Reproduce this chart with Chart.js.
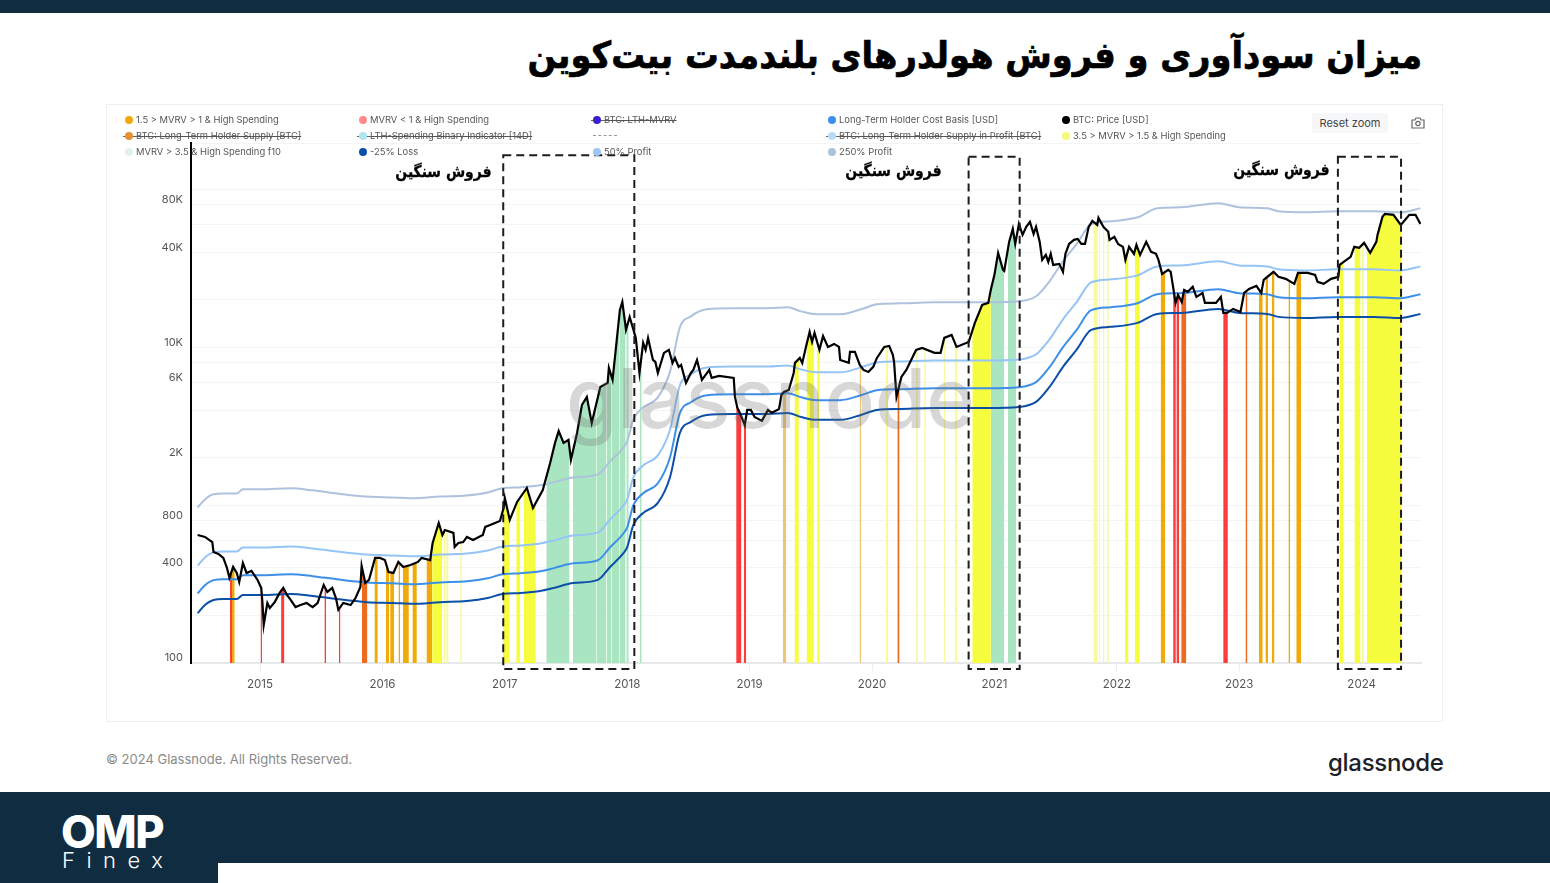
<!DOCTYPE html>
<html lang="fa">
<head>
<meta charset="utf-8">
<title>LTH profitability and spending</title>
<script src="https://cdn.jsdelivr.net/npm/chart.js@4"></script>
<style>
  html, body { margin: 0; padding: 0; background: #fff; }
  #page { position: relative; width: 1550px; height: 883px; overflow: hidden; background: #fff; font-family: Inter, sans-serif; }
  #page > * { position: absolute; }
  .navy { background: #0f2c40; }
  #title { right: 128px; top: 34px; font: bold 37px "DejaVu Sans", sans-serif; color: #000; direction: rtl; white-space: nowrap; transform: scaleX(0.911); transform-origin: right center; -webkit-text-stroke: 0.7px #000; }
  #card { left: 106px; top: 104px; width: 1335px; height: 616px; border: 1px solid #eceef0; }
  #chart { left: 107px; top: 105px; }
  .note { font: bold 16px "DejaVu Sans", sans-serif; color: #000; direction: rtl; white-space: nowrap; transform: scaleX(0.87); transform-origin: right center; -webkit-text-stroke: 0.3px #000; }
  .leg { font-size: 9.4px; line-height: 12px; color: #555; white-space: nowrap; }
  .leg i { position: absolute; left: -11px; top: 2px; width: 8px; height: 8px; border-radius: 50%; }
  .leg.off { text-decoration: line-through; }
  .leg.off::before { content: ""; position: absolute; left: -13px; width: 14px; top: 6px; height: 1px; background: #666; }
  #reset { left: 1312px; top: 113px; width: 76px; height: 20px; background: #f6f7f9; border-radius: 3px; font-size: 11px; line-height: 20px; text-align: center; color: #444; }
  #copy { left: 106px; top: 751px; font-size: 13px; color: #8a8a8a; white-space: nowrap; }
  #brand { left: 1328px; top: 748px; font-size: 24px; font-weight: 500; letter-spacing: -0.3px; color: #1c2229; white-space: nowrap; }
  #omp { left: 61px; top: 805px; font-size: 45px; font-weight: 800; letter-spacing: -1.5px; color: #fff; line-height: 54px; }
  #finex { left: 62px; top: 848px; font-size: 22px; font-weight: 300; letter-spacing: 11.5px; color: #fff; line-height: 24px; }
</style>
</head>
<body>
<div id="page">
  <div class="navy" style="left:0;top:0;width:1550px;height:13px"></div>
  <div id="title">میزان سودآوری و فروش هولدرهای بلندمدت بیت‌کوین</div>
  <div id="card"></div>
  <canvas id="chart" width="1336" height="616"></canvas>
  <div id="legend" style="left:0;top:0"></div>
  <div class="note" style="right:1058px;top:162px">فروش سنگین</div>
  <div class="note" style="right:608px;top:161px">فروش سنگین</div>
  <div class="note" style="right:220px;top:160px">فروش سنگین</div>
  <div id="reset">Reset zoom</div>
  <svg style="left:1411px;top:117px" width="14" height="12" viewBox="0 0 14 12" fill="none" stroke="#666" stroke-width="1.2">
    <path d="M1 3h3l1-2h4l1 2h3v8H1z"/><circle cx="7" cy="6.5" r="2.2"/>
  </svg>
  <div id="copy">© 2024 Glassnode. All Rights Reserved.</div>
  <div id="brand">glassnode</div>
  <div class="navy" style="left:0;top:792px;width:1550px;height:91px"></div>
  <div style="left:218px;top:863px;width:1332px;height:20px;background:#fff"></div>
  <div id="omp">OMP</div>
  <div id="finex">Finex</div>
</div>

<script>
// values, x is decimal year
const priceYears = [
  2014.49, 2014.55, 2014.61, 2014.62, 2014.66, 2014.70, 2014.73, 2014.75, 2014.78, 2014.81, 2014.83, 2014.86, 2014.89, 2014.93, 2014.98,
  2015.01, 2015.02, 2015.03, 2015.06, 2015.08, 2015.12, 2015.16, 2015.19, 2015.22, 2015.25, 2015.29, 2015.33, 2015.38, 2015.43, 2015.47,
  2015.52, 2015.55, 2015.59, 2015.62, 2015.64, 2015.68, 2015.74, 2015.78, 2015.82, 2015.83, 2015.86, 2015.89, 2015.94, 2015.98,
  2016.02, 2016.05, 2016.09, 2016.13, 2016.17, 2016.23, 2016.29, 2016.32, 2016.39, 2016.41, 2016.46, 2016.49, 2016.51, 2016.58, 2016.59,
  2016.62, 2016.66, 2016.69, 2016.74, 2016.82, 2016.84, 2016.88, 2016.96, 2016.99,
  2017.00, 2017.04, 2017.10, 2017.18, 2017.23, 2017.31, 2017.37, 2017.41, 2017.44, 2017.48, 2017.52, 2017.54, 2017.59, 2017.63, 2017.67,
  2017.71, 2017.78, 2017.84, 2017.85, 2017.88, 2017.90, 2017.94, 2017.96, 2017.99,
  2018.02, 2018.07, 2018.10, 2018.13, 2018.15, 2018.17, 2018.21, 2018.23, 2018.25, 2018.30, 2018.34, 2018.37, 2018.39, 2018.42, 2018.44,
  2018.48, 2018.52, 2018.54, 2018.57, 2018.59, 2018.61, 2018.67, 2018.69, 2018.75, 2018.87, 2018.88, 2018.90, 2018.92, 2018.96, 2018.98,
  2019.01, 2019.04, 2019.10, 2019.15, 2019.18, 2019.24, 2019.26, 2019.28, 2019.32, 2019.36, 2019.37, 2019.41, 2019.43, 2019.46, 2019.49,
  2019.51, 2019.53, 2019.57, 2019.60, 2019.64, 2019.69, 2019.73, 2019.74, 2019.81, 2019.82, 2019.86, 2019.90, 2019.93, 2019.97,
  2020.01, 2020.04, 2020.10, 2020.14, 2020.17, 2020.18, 2020.20, 2020.24, 2020.28, 2020.36, 2020.41, 2020.51, 2020.56, 2020.59, 2020.65,
  2020.69, 2020.79, 2020.84, 2020.90, 2020.95, 2020.97,
  2021.00, 2021.03, 2021.07, 2021.08, 2021.12, 2021.15, 2021.17, 2021.20, 2021.23, 2021.26, 2021.29, 2021.32, 2021.34, 2021.37, 2021.39,
  2021.42, 2021.44, 2021.46, 2021.48, 2021.53, 2021.56, 2021.58, 2021.61, 2021.65, 2021.68, 2021.71, 2021.74, 2021.77, 2021.80, 2021.84,
  2021.85, 2021.89, 2021.93, 2021.94, 2021.98,
  2022.01, 2022.05, 2022.07, 2022.10, 2022.14, 2022.16, 2022.19, 2022.24, 2022.28, 2022.32, 2022.34, 2022.37, 2022.42, 2022.44, 2022.47,
  2022.48, 2022.50, 2022.53, 2022.55, 2022.58, 2022.62, 2022.65, 2022.70, 2022.72, 2022.77, 2022.81, 2022.85, 2022.87, 2022.90, 2022.95,
  2023.01, 2023.04, 2023.08, 2023.14, 2023.18, 2023.20, 2023.28, 2023.32, 2023.38, 2023.45, 2023.48, 2023.56, 2023.62, 2023.64, 2023.69,
  2023.75, 2023.81, 2023.82, 2023.91, 2023.94, 2023.98,
  2024.02, 2024.07, 2024.12, 2024.13, 2024.17, 2024.19, 2024.26, 2024.32, 2024.39, 2024.44, 2024.48
];
const priceValues = [
  647, 629, 584, 505, 491, 463, 400, 346, 406, 372, 326, 430, 372, 383, 336,
  299, 240, 174, 240, 223, 243, 278, 299, 270, 251, 226, 233, 240, 226, 240,
  312, 282, 299, 258, 217, 240, 233, 258, 303, 412, 321, 336, 463, 463,
  449, 377, 372, 437, 406, 418, 437, 463, 449, 576, 771, 647, 696, 667, 543,
  576, 584, 629, 602, 647, 728, 749, 794, 960,
  1111, 806, 1048, 1285, 960, 1248, 1852, 2480, 2950, 2480, 2590, 1935, 2868, 4320, 4850,
  3320, 5610, 5950, 7410, 6220, 8690, 17270, 19400, 12900,
  15590, 11470, 6880, 10670, 9630, 11470, 8320, 8080, 6880, 9220, 9630, 7970, 8570, 7520, 7740,
  5950, 6880, 7190, 8320, 7190, 6220, 7190, 6400, 6590, 6400, 4850, 4130, 3840, 3220, 4010,
  4010, 3620, 3420, 4010, 3840, 4070, 4990, 5220, 5370, 6880, 7970, 8570, 7970, 10060, 12520,
  10820, 12340, 9630, 11800, 10060, 10510, 10060, 8320, 7970, 9350, 9350, 7740, 7190, 6980,
  7520, 8570, 10060, 10210, 8950, 8080, 4850, 6490, 7190, 9630, 9920, 9220, 9220, 11470, 11990,
  10060, 10820, 14280, 18570, 19120, 23100,
  28770, 39660, 30960, 30500, 46560, 56300, 45200, 60560, 51590, 57960, 62340, 52300, 57960, 46560, 35800,
  38500, 34790, 39100, 33290, 33780, 30070, 39100, 45200, 47950, 48600, 45200, 45200, 57960, 63280, 59680,
  66080, 57960, 53900, 47950, 50090,
  45200, 43300, 35800, 43300, 39100, 44570, 38500, 46560, 40240, 39100, 35800, 29190, 30960, 30070, 21490,
  19120, 21490, 19400, 23100, 22460, 24160, 20870, 22100, 19120, 19120, 19120, 20870, 16520, 16520, 17520,
  16760, 22100, 23460, 24500, 22100, 26750, 30070, 27940, 27140, 25230, 29630, 29630, 28770, 25980, 25230,
  27140, 27940, 33290, 37400, 43300, 42660,
  45880, 39660, 46560, 51590, 67050, 70090, 69070, 59680, 69070, 69070, 60560
];

const bandYears = [
  2014.49, 2014.55, 2014.62, 2014.70, 2014.81, 2014.86, 2015.02, 2015.25, 2015.43, 2015.63, 2015.87, 2016.09, 2016.25, 2016.47, 2016.69, 2016.86,
  2016.98, 2017.13, 2017.29, 2017.40, 2017.56, 2017.76, 2017.86, 2017.97, 2018.00, 2018.05, 2018.13, 2018.25, 2018.35, 2018.43, 2018.52, 2018.65,
  2018.87, 2019.15, 2019.31, 2019.42, 2019.55, 2019.74, 2019.91, 2020.04, 2020.23, 2020.51, 2020.79, 2020.95, 2021.20, 2021.34, 2021.45, 2021.56,
  2021.67, 2021.79, 2021.95, 2022.17, 2022.33, 2022.52, 2022.83, 2023.00, 2023.23, 2023.32, 2023.54, 2023.80, 2024.10, 2024.32, 2024.48
];
const lossValues = [
  207, 233, 251, 254, 254, 270, 270, 274, 266, 254, 243, 240, 237, 243, 247, 258,
  274, 278, 286, 299, 321, 336, 406, 498, 543, 749, 893, 1033, 1509, 2868, 3368, 3730,
  3785, 3785, 3840, 3620, 3470, 3470, 3730, 4010, 4070, 4130, 4130, 4130, 4190, 4510, 5610, 7520,
  9630, 12900, 13480, 14280, 16280, 16520, 17520, 16520, 16280, 15590, 15360, 15590, 15590, 15360, 16280
];
const costBasisValues = [
  276, 311, 335, 339, 339, 360, 360, 365, 355, 339, 324, 320, 316, 324, 329, 344,
  365, 371, 381, 399, 428, 448, 541, 664, 724, 999, 1191, 1377, 2012, 3824, 4491, 4973,
  5047, 5047, 5120, 4827, 4627, 4627, 4973, 5347, 5427, 5507, 5507, 5507, 5587, 6013, 7480, 10027,
  12840, 17200, 17973, 19040, 21707, 22027, 23360, 22027, 21707, 20787, 20480, 20787, 20787, 20480, 21707
];
const profit50Values = [
  414, 466, 502, 508, 508, 540, 540, 548, 532, 508, 486, 480, 474, 486, 494, 516,
  548, 556, 572, 598, 642, 672, 812, 996, 1086, 1498, 1786, 2066, 3018, 5736, 6736, 7460,
  7570, 7570, 7680, 7240, 6940, 6940, 7460, 8020, 8140, 8260, 8260, 8260, 8380, 9020, 11220, 15040,
  19260, 25800, 26960, 28560, 32560, 33040, 35040, 33040, 32560, 31180, 30720, 31180, 31180, 30720, 32560
];
const profit250Values = [
  966, 1087, 1171, 1185, 1185, 1260, 1260, 1279, 1241, 1185, 1134, 1120, 1106, 1134, 1153, 1204,
  1279, 1297, 1335, 1395, 1498, 1568, 1895, 2324, 2534, 3495, 4167, 4821, 7042, 13384, 15717, 17407,
  17663, 17663, 17920, 16893, 16193, 16193, 17407, 18713, 18993, 19273, 19273, 19273, 19553, 21047, 26180, 35093,
  44940, 60200, 62907, 66640, 75973, 77093, 81760, 77093, 75973, 72753, 71680, 72753, 72753, 71680, 75973
];

// high spending periods, [from, to] in years
const redSpans = [
  [2014.755, 2014.771], [2015.004, 2015.016], [2015.172, 2015.199], [2015.526, 2015.540], [2015.644, 2015.657],
  [2018.890, 2018.933], [2018.952, 2018.972], [2022.460, 2022.482], [2022.487, 2022.510], [2022.869, 2022.907]
];
const orangeSpans = [
  [2014.771, 2014.793], [2015.935, 2015.962], [2016.028, 2016.055], [2016.063, 2016.096], [2016.131, 2016.145],
  [2016.167, 2016.216], [2016.245, 2016.281], [2016.360, 2016.406], [2022.358, 2022.396], [2023.161, 2023.192],
  [2023.214, 2023.235], [2023.267, 2023.288], [2023.402, 2023.416], [2023.466, 2023.507]
];
const redOrangeSpans = [
  [2015.832, 2015.877], [2020.207, 2020.225], [2022.526, 2022.568], [2023.051, 2023.067]
];
const paleOrangeSpans = [[2019.271, 2019.299], [2019.898, 2019.912]];
const yellowSpans = [
  [2016.406, 2016.488], [2016.985, 2017.039], [2017.093, 2017.126], [2017.153, 2017.253], [2019.367, 2019.402],
  [2019.465, 2019.525], [2019.552, 2019.571], [2020.819, 2020.971], [2022.067, 2022.095], [2022.147, 2022.187],
  [2023.819, 2023.853], [2023.941, 2023.991], [2024.044, 2024.322]
];
const paleYellowSpans = [
  [2016.499, 2016.513], [2016.521, 2016.540], [2016.635, 2016.649], [2020.111, 2020.133], [2020.360, 2020.377],
  [2020.426, 2020.440], [2020.585, 2020.601], [2020.675, 2020.698], [2021.808, 2021.844], [2021.855, 2021.863],
  [2021.885, 2021.899], [2021.918, 2021.934], [2024.003, 2024.019]
];
const greenSpans = [
  [2017.339, 2017.529], [2017.557, 2017.750], [2017.752, 2017.830], [2017.832, 2017.872], [2017.874, 2017.938],
  [2017.940, 2017.987], [2017.993, 2018.012], [2018.102, 2018.118], [2020.971, 2021.079], [2021.111, 2021.178]
];

// dashed "heavy selling" boxes
const boxStarts = [2016.987, 2020.789, 2023.806];
const boxEnds = [2018.058, 2021.206, 2024.322];
const boxTops = [165000, 161000, 161000];
const boxBottom = 91.5;

const xTicks = [2015, 2016, 2017, 2018, 2019, 2020, 2021, 2022, 2023, 2024];
const yGridTicks = [100, 200, 400, 600, 800, 1000, 2000, 4000, 6000, 8000, 10000, 20000, 40000, 60000, 80000, 100000, 197000];
const yTickLabels = { 100: "100", 400: "400", 800: "800", 2000: "2K", 6000: "6K", 10000: "10K", 40000: "40K", 80000: "80K" };

const legendRows = [
  ["1.5 > MVRV > 1 & High Spending", "MVRV < 1 & High Spending", "BTC: LTH-MVRV", "Long-Term Holder Cost Basis [USD]", "BTC: Price [USD]"],
  ["BTC: Long-Term Holder Supply [BTC]", "LTH-Spending Binary Indicator [14D]", "", "BTC: Long-Term Holder Supply in Profit [BTC]", "3.5 > MVRV > 1.5 & High Spending"],
  ["MVRV > 3.5 & High Spending f10", "-25% Loss", "50% Profit", "250% Profit", ""]
];
const legendColors = [
  ["#f0ab0a", "#ff8a8a", "#3a1fd0", "#3d8fee", "#000000"],
  ["#e88f2e", "#b0e4f0", "", "#b8dcf8", "#f6f97a"],
  ["#dff3e6", "#0b4fa8", "#9cc6f6", "#aec2dd", ""]
];
const legendOff = ["BTC: LTH-MVRV", "BTC: Long-Term Holder Supply [BTC]", "LTH-Spending Binary Indicator [14D]", "BTC: Long-Term Holder Supply in Profit [BTC]"];

function buildLegend() {
  const columns = [136, 370, 604, 839, 1073];
  const rowsTop = [114, 130, 146];
  const box = document.getElementById("legend");
  legendRows.forEach((row, r) => row.forEach((text, c) => {
    const el = document.createElement("div");
    el.style.position = "absolute";
    el.style.left = columns[c] + "px";
    el.style.top = rowsTop[r] + "px";
    if (text) {
      el.className = "leg" + (legendOff.includes(text) ? " off" : "");
      el.innerHTML = '<i style="background:' + legendColors[r][c] + '"></i>';
      el.appendChild(document.createTextNode(text));
    } else if (r === 1 && c === 2) {
      el.style.cssText += "left:593px;top:135px;width:24px;border-top:1px dashed #999";
    } else {
      return;
    }
    box.appendChild(el);
  }));
}

// price at a given year, so a band's top follows the price line
function priceAt(year) {
  let i = priceYears.findIndex((y) => y >= year);
  if (i <= 0) return priceValues[Math.max(i, 0)];
  const t = (year - priceYears[i - 1]) / (priceYears[i] - priceYears[i - 1]);
  return priceValues[i - 1] * Math.pow(priceValues[i] / priceValues[i - 1], t);
}

function spanPoints(spans) {
  const points = [];
  spans.forEach(([from, to]) => {
    points.push({ x: from, y: priceAt(from) });
    priceYears.forEach((year, i) => {
      if (year > from && year < to) points.push({ x: year, y: priceValues[i] });
    });
    points.push({ x: to, y: priceAt(to) });
    points.push({ x: to, y: null });
  });
  return points;
}

function spanDataset(label, spans, color) {
  return {
    label,
    data: spanPoints(spans),
    borderWidth: 0,
    borderColor: color,
    backgroundColor: color,
    pointRadius: 0,
    fill: "start",
    spanGaps: false,
    tension: 0,
  };
}

function bandDataset(label, values, color) {
  return {
    label,
    data: bandYears.map((x, i) => ({ x, y: values[i] })),
    borderColor: color,
    borderWidth: 2,
    pointRadius: 0,
    fill: false,
    cubicInterpolationMode: "monotone",
  };
}

const overlayPlugin = {
  id: "overlay",
  afterDatasetsDraw(chart) {
    const { ctx, scales: { x, y } } = chart;
    ctx.save();
    ctx.fillStyle = "rgba(110,110,110,0.28)";
    ctx.font = "500 83px Inter, sans-serif";
    ctx.textBaseline = "alphabetic";
    ctx.fillText("glassnode", 566 - 107, 428 - 105);
    ctx.strokeStyle = "#1c1c1c";
    ctx.lineWidth = 2;
    ctx.setLineDash([8, 5]);
    boxStarts.forEach((start, i) => {
      const left = x.getPixelForValue(start);
      const right = x.getPixelForValue(boxEnds[i]);
      const top = y.getPixelForValue(boxTops[i]);
      const bottom = y.getPixelForValue(boxBottom);
      ctx.strokeRect(left, top, right - left, bottom - top);
    });
    ctx.restore();
  },
};

buildLegend();

new Chart(document.getElementById("chart"), {
  type: "line",
  data: {
    datasets: [
      {
        label: "BTC: Price [USD]",
        data: priceYears.map((x, i) => ({ x, y: priceValues[i] })),
        borderColor: "#000",
        borderWidth: 2.2,
        borderJoinStyle: "miter",
        pointRadius: 0,
        fill: false,
        tension: 0,
      },
      bandDataset("-25% Loss", lossValues, "#0b4fa8"),
      bandDataset("Long-Term Holder Cost Basis [USD]", costBasisValues, "#3d8fe8"),
      bandDataset("50% Profit", profit50Values, "#95c4f5"),
      bandDataset("250% Profit", profit250Values, "#aec2dd"),
      spanDataset("MVRV < 1 & High Spending", redSpans, "#ff3c3c"),
      spanDataset("1.5 > MVRV > 1 & High Spending", orangeSpans, "#f0ab0a"),
      spanDataset("1.5 > MVRV > 1 & MVRV < 1", redOrangeSpans, "#ee6a1c"),
      spanDataset("1.5 > MVRV > 1 (faint)", paleOrangeSpans, "#efc678"),
      spanDataset("3.5 > MVRV > 1.5 & High Spending", yellowSpans, "#f5fd3e"),
      spanDataset("3.5 > MVRV > 1.5 (faint)", paleYellowSpans, "#f8fb9c"),
      spanDataset("MVRV > 3.5 & High Spending f10", greenSpans, "#a9e5c1"),
    ],
  },
  options: {
    responsive: false,
    animation: false,
    devicePixelRatio: 1,
    layout: { padding: { top: 38, right: 22, left: 0, bottom: 0 } },
    plugins: { legend: { display: false }, tooltip: { enabled: false } },
    scales: {
      x: {
        type: "linear",
        min: 2014.436,
        max: 2024.485,
        afterBuildTicks: (scale) => { scale.ticks = xTicks.map((value) => ({ value })); },
        afterFit: (scale) => { scale.height = 58; },
        grid: { drawOnChartArea: false, color: "#eceef0", tickLength: 8 },
        border: { color: "#e6e8ea", width: 2 },
        ticks: {
          callback: (value) => String(value),
          autoSkip: false,
          maxRotation: 0,
          padding: 7,
          color: "#555",
          font: { family: "Inter", size: 11.5 },
        },
      },
      y: {
        type: "logarithmic",
        min: 100,
        max: 197000,
        afterBuildTicks: (scale) => { scale.ticks = yGridTicks.map((value) => ({ value })); },
        afterFit: (scale) => { scale.width = 84; },
        grid: { color: "#f3f4f5", drawTicks: false },
        border: { color: "#000", width: 2 },
        ticks: {
          callback: (value) => yTickLabels[value] || "",
          autoSkip: false,
          padding: 8,
          labelOffset: -5,
          color: "#555",
          font: { family: "Inter", size: 11 },
        },
      },
    },
  },
  plugins: [overlayPlugin],
});
</script>
</body>
</html>
